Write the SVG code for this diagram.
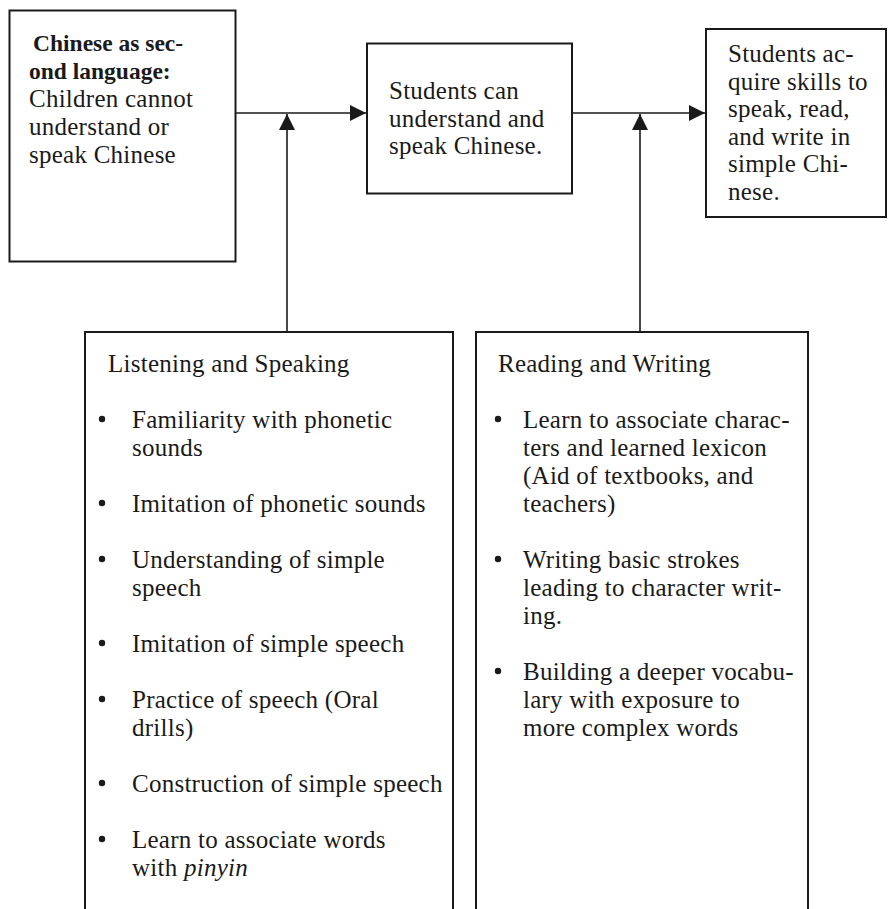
<svg xmlns="http://www.w3.org/2000/svg" width="888" height="909" viewBox="0 0 888 909">
<style>
  .box { fill: #fff; stroke: #1a1a1a; stroke-width: 2; }
  .con { fill: none; stroke: #1a1a1a; stroke-width: 1.6; }
  text { font-family: "Liberation Serif", "Times New Roman", serif; font-size: 25px; fill: #1a1a1a; letter-spacing: 0.25px; }
  .b { font-weight: bold; font-size: 23.5px; letter-spacing: 0; }
  .dot { fill: #1a1a1a; }
</style>
<defs>
  <marker id="ah" markerUnits="userSpaceOnUse" markerWidth="17" markerHeight="17" refX="16" refY="8" orient="auto">
    <path d="M0,0 L16,8 L0,16 z" fill="#1a1a1a"/>
  </marker>
</defs>
<rect width="888" height="909" fill="#fff"/>

<g id="connectors">
  <line class="con" x1="236" y1="113" x2="366" y2="113" marker-end="url(#ah)"/>
  <line class="con" x1="572" y1="113" x2="705" y2="113" marker-end="url(#ah)"/>
  <line class="con" x1="287" y1="332" x2="287" y2="114" marker-end="url(#ah)"/>
  <line class="con" x1="640" y1="332" x2="640" y2="114" marker-end="url(#ah)"/>
</g>

<g id="node-start">
  <rect class="box" x="9.5" y="10.5" width="226" height="251"/>
  <text class="b" x="33" y="51">Chinese as sec-</text>
  <text class="b" x="29" y="79">ond language:</text>
  <text x="29" y="107">Children cannot</text>
  <text x="29" y="135">understand or</text>
  <text x="29" y="163">speak Chinese</text>
</g>

<g id="node-middle">
  <rect class="box" x="367" y="43.5" width="205" height="150"/>
  <text x="389" y="99">Students can</text>
  <text x="389" y="126.5">understand and</text>
  <text x="389" y="154">speak Chinese.</text>
</g>

<g id="node-goal">
  <rect class="box" x="706" y="29" width="180" height="188"/>
  <text x="728" y="62">Students ac-</text>
  <text x="728" y="89.5">quire skills to</text>
  <text x="728" y="117">speak, read,</text>
  <text x="728" y="144.5">and write in</text>
  <text x="728" y="172">simple Chi-</text>
  <text x="728" y="199.5">nese.</text>
</g>

<g id="node-listening">
  <path class="box" d="M85,912 V332 H453 V912"/>
  <text x="108" y="372">Listening and Speaking</text>
  <circle class="dot" cx="102" cy="419" r="3.2"/>
  <text x="132" y="428">Familiarity with phonetic</text>
  <text x="132" y="456">sounds</text>
  <circle class="dot" cx="102" cy="503" r="3.2"/>
  <text x="132" y="512">Imitation of phonetic sounds</text>
  <circle class="dot" cx="102" cy="559" r="3.2"/>
  <text x="132" y="568">Understanding of simple</text>
  <text x="132" y="596">speech</text>
  <circle class="dot" cx="102" cy="643" r="3.2"/>
  <text x="132" y="652">Imitation of simple speech</text>
  <circle class="dot" cx="102" cy="699" r="3.2"/>
  <text x="132" y="708">Practice of speech (Oral</text>
  <text x="132" y="736">drills)</text>
  <circle class="dot" cx="102" cy="783" r="3.2"/>
  <text x="132" y="792">Construction of simple speech</text>
  <circle class="dot" cx="102" cy="839" r="3.2"/>
  <text x="132" y="848">Learn to associate words</text>
  <text x="132" y="876">with <tspan font-style="italic">pinyin</tspan></text>
</g>

<g id="node-reading">
  <path class="box" d="M476,912 V332 H808 V912"/>
  <text x="498" y="372">Reading and Writing</text>
  <circle class="dot" cx="498" cy="419" r="3.2"/>
  <text x="523" y="428">Learn to associate charac-</text>
  <text x="523" y="456">ters and learned lexicon</text>
  <text x="523" y="484">(Aid of textbooks, and</text>
  <text x="523" y="512">teachers)</text>
  <circle class="dot" cx="498" cy="559" r="3.2"/>
  <text x="523" y="568">Writing basic strokes</text>
  <text x="523" y="596">leading to character writ-</text>
  <text x="523" y="624">ing.</text>
  <circle class="dot" cx="498" cy="671" r="3.2"/>
  <text x="523" y="680">Building a deeper vocabu-</text>
  <text x="523" y="708">lary with exposure to</text>
  <text x="523" y="736">more complex words</text>
</g>
</svg>
